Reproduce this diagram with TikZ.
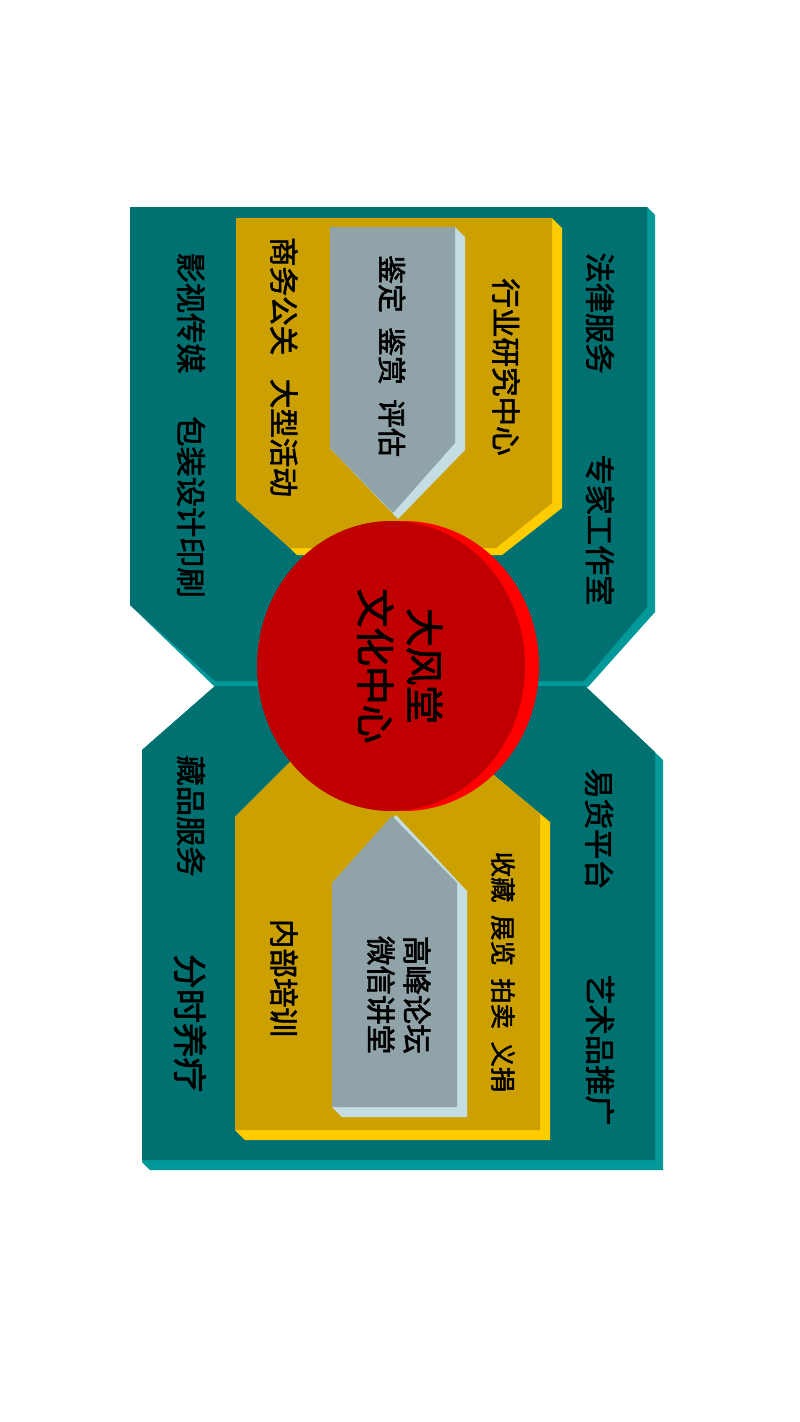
\documentclass[tikz,border=0pt]{standalone}
\usepackage{fontspec}
\newfontfamily\cjk[FakeBold=2]{Noto Sans CJK SC}
\definecolor{tealface}{RGB}{0,112,112}
\definecolor{tealedge}{RGB}{0,152,152}
\definecolor{goldface}{RGB}{204,160,0}
\definecolor{goldedge}{RGB}{255,204,0}
\definecolor{greyface}{RGB}{143,163,168}
\definecolor{greyedge}{RGB}{196,222,228}
\definecolor{hubface}{RGB}{192,0,0}
\definecolor{hubedge}{RGB}{255,0,0}

\begin{document}
\begin{tikzpicture}[x=0.025cm,y=-0.025cm]
	\tikzstyle{tealtext}
	  =[rotate=-90, inner sep=0pt, text=black, font=\fontsize{21.5}{26}\cjk]
	\tikzstyle{goldtext}
	  =[rotate=-90, inner sep=0pt, text=black, font=\fontsize{21}{25}\cjk]
	\tikzstyle{greytext}
	  =[rotate=-90, inner sep=0pt, text=black, align=center,
	  font=\fontsize{21}{25.6}\cjk]
	\tikzstyle{hubtext}
	  =[rotate=-90, inner sep=0pt, text=black, align=center,
	  font=\fontsize{27.5}{35}\cjk]

	\useasboundingbox (0,0) rectangle (800,1422);

	\fill[tealedge] (130,207) -- (647,207) -- (655,215) -- (655,612)
	  -- (588,687) -- (215,687) -- (130,605) -- cycle;
	\fill[tealface] (130,207) -- (647,207) -- (647,607)
	  -- (584,681) -- (215,681) -- (130,605) -- cycle;
	\fill[tealedge] (215,686) -- (585,686) -- (663,760) -- (663,1170)
	  -- (150,1170) -- (142,1162) -- (142,750) -- cycle;
	\fill[tealface] (215,686) -- (585,686) -- (655,752) -- (655,1160)
	  -- (142,1160) -- (142,750) -- cycle;

	\fill[goldedge] (236,218) -- (552,218) -- (562,228) -- (562,508)
	  -- (502,555) -- (297,555) -- (290,548) -- (236,500) -- cycle;
	\fill[goldface] (236,218) -- (552,218) -- (552,503)
	  -- (496,548) -- (290,548) -- (236,500) -- cycle;
	\fill[goldedge] (235,817) -- (297,755) -- (478,762) -- (550,822)
	  -- (550,1140) -- (245,1140) -- (235,1130) -- cycle;
	\fill[goldface] (235,817) -- (297,755) -- (478,762) -- (540,814)
	  -- (540,1130) -- (235,1130) -- cycle;

	\fill[greyedge] (330,227) -- (455,227) -- (465,237) -- (465,450)
	  -- (398,519) -- (330,448) -- cycle;
	\fill[greyface] (330,227) -- (455,227) -- (455,443)
	  -- (393,513) -- (330,448) -- cycle;
	\fill[greyedge] (396,815) -- (467,891) -- (467,1117) -- (342,1117)
	  -- (332,1107) -- (332,883) -- cycle;
	\fill[greyface] (392,816) -- (457,883) -- (457,1107)
	  -- (332,1107) -- (332,883) -- cycle;

	\fill[hubedge] (404,666) ellipse [x radius=135, y radius=145];
	\fill[hubface] (391,666) ellipse [x radius=134, y radius=145];

	\node[tealtext] (law)
	  at (600,313) {法律服务};
	\node[tealtext] (expert)
	  at (600,530) {专家工作室};
	\node[tealtext] (film)
	  at (191,313) {影视传媒};
	\node[tealtext] (print)
	  at (191,507) {包装设计印刷};
	\node[tealtext] (barter)
	  at (599,829) {易货平台};
	\node[tealtext] (promo)
	  at (600,1050) {艺术品推广};
	\node[tealtext] (collect)
	  at (191,816) {藏品服务};
	\node[tealtext, font=\fontsize{24.5}{29}\cjk] (care)
	  at (190,1023) {分时养疗};

	\node[goldtext] (research)
	  at (506,367) {行业研究中心};
	\node[goldtext] (events)
	  at (284,367) {商务公关\hspace{.8em}大型活动};
	\node[goldtext, font=\fontsize{18}{22}\cjk] (shows)
	  at (503,972) {收藏\enspace 展览\enspace 拍卖\enspace 义捐};
	\node[goldtext] (training)
	  at (284,978) {内部培训};

	\node[greytext, font=\fontsize{20.5}{25}\cjk] (appraise)
	  at (392,356) {鉴定\enspace 鉴赏\enspace 评估};
	\node[greytext] (forum)
	  at (399,995) {高峰论坛\\微信讲堂};

	\node[hubtext] (hub)
	  at (400,666) {大风堂\\文化中心};
\end{tikzpicture}
\end{document}
